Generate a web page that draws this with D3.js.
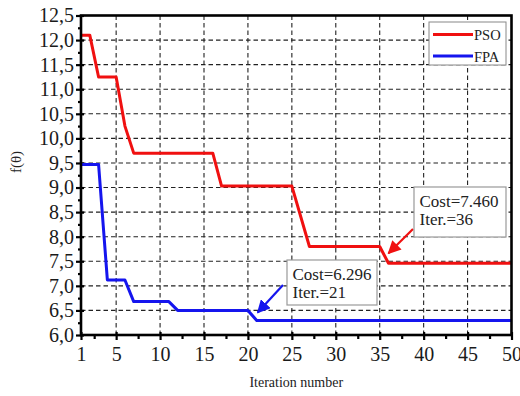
<!DOCTYPE html>
<html>
<head>
<meta charset="utf-8">
<script src="https://cdn.jsdelivr.net/npm/d3@7"></script>
<style>
  html, body { margin: 0; padding: 0; background: #fff; }
  svg { display: block; font-family: "Liberation Serif", "Times New Roman", serif; }
  svg text { font-family: "Liberation Serif", "Times New Roman", serif; }
</style>
</head>
<body>
<svg id="chart" width="520" height="396"></svg>
<script>
// Convergence curves: best cost per iteration (breakpoints of the step curves)
const psoIter  = [1, 2, 3, 5, 6, 7, 16, 17, 25, 27, 35, 36, 50];
const psoCost  = [12.1, 12.1, 11.25, 11.25, 10.25, 9.7, 9.7, 9.03, 9.03, 7.8, 7.8, 7.46, 7.46];
const fpaIter  = [1, 3, 4, 6, 7, 11, 12, 20, 21, 50];
const fpaCost  = [9.47, 9.47, 7.12, 7.12, 6.68, 6.68, 6.5, 6.5, 6.296, 6.296];

const xTicks = [1, 5, 10, 15, 20, 25, 30, 35, 40, 45, 50];
const xMinor = [2.5, 7.5, 12.5, 17.5, 22.5, 27.5, 32.5, 37.5, 42.5, 47.5];
const yTicks = [6.0, 6.5, 7.0, 7.5, 8.0, 8.5, 9.0, 9.5, 10.0, 10.5, 11.0, 11.5, 12.0, 12.5];
const yMinor = [6.25, 6.75, 7.25, 7.75, 8.25, 8.75, 9.25, 9.75, 10.25, 10.75, 11.25, 11.75, 12.25];

const seriesNames  = ["PSO", "FPA"];
const seriesColors = ["#f01010", "#1515ee"];

// Best-cost callouts
const callouts = [
  { series: 0, iter: 36, cost: 7.460, lines: ["Cost=7.460", "Iter.=36"] },
  { series: 1, iter: 21, cost: 6.296, lines: ["Cost=6.296", "Iter.=21"] }
];

const svg = d3.select("#chart");
const L = 81, R = 511.5, T = 15.5, B = 335;

const x = d3.scaleLinear().domain([1, 50]).range([L, R]);
const y = d3.scaleLinear().domain([6.0, 12.5]).range([B, T]);
const fmt = v => d3.format(".1f")(v).replace(".", ",");

// Grid
const grid = svg.append("g").attr("stroke", "#222").attr("stroke-width", 1.1)
  .attr("stroke-dasharray", "4.5,3");
grid.selectAll("line.v").data(xTicks.filter(d => d > 1 && d < 50)).join("line")
  .attr("x1", d => x(d)).attr("x2", d => x(d)).attr("y1", T).attr("y2", B);
grid.selectAll("line.h").data(yTicks.filter(d => d > 6 && d < 12.5)).join("line")
  .attr("x1", L).attr("x2", R).attr("y1", d => y(d)).attr("y2", d => y(d));

// Axes
const xAxis = svg.append("g").attr("transform", `translate(0,${B})`)
  .call(d3.axisBottom(x).tickValues(xTicks).tickFormat(d3.format("d")).tickSize(5).tickPadding(7));
const xAxisMinor = svg.append("g").attr("transform", `translate(0,${B})`)
  .call(d3.axisBottom(x).tickValues(xMinor).tickFormat("").tickSize(4));
const yAxis = svg.append("g").attr("transform", `translate(${L},0)`)
  .call(d3.axisLeft(y).tickValues(yTicks).tickFormat(fmt).tickSize(5).tickPadding(2));
const yAxisMinor = svg.append("g").attr("transform", `translate(${L},0)`)
  .call(d3.axisLeft(y).tickValues(yMinor).tickFormat("").tickSize(3));

[xAxis, xAxisMinor, yAxis, yAxisMinor].forEach(g => {
  g.attr("font-family", "Liberation Serif").attr("font-size", 20);
  g.select(".domain").remove();
  g.selectAll(".tick line").attr("stroke", "#000").attr("stroke-width", 2.2);
  g.selectAll(".tick text").attr("fill", "#1a1a1a");
});
// Major ticks cross slightly into the plot
xAxis.selectAll(".tick line").attr("y1", -3);
yAxis.selectAll(".tick line").attr("x1", 3);

// Curves
const line = d3.line().x(d => x(d[0])).y(d => y(d[1]));
const series = [d3.zip(psoIter, psoCost), d3.zip(fpaIter, fpaCost)];
series.forEach((s, i) => {
  svg.append("path").datum(s).attr("d", line)
    .attr("fill", "none").attr("stroke", seriesColors[i]).attr("stroke-width", 3)
    .attr("stroke-linejoin", "round");
});

// Frame
svg.append("rect").attr("x", L).attr("y", T).attr("width", R - L).attr("height", B - T)
  .attr("fill", "none").attr("stroke", "#000").attr("stroke-width", 2.6);

// Legend
const lg = svg.append("g");
lg.append("rect").attr("x", 429).attr("y", 22).attr("width", 77).attr("height", 43)
  .attr("fill", "#fff").attr("stroke", "#888").attr("stroke-width", 1);
seriesNames.forEach((n, i) => {
  const yy = 34.5 + i * 21.5;
  lg.append("line").attr("x1", 433).attr("x2", 473).attr("y1", yy).attr("y2", yy)
    .attr("stroke", seriesColors[i]).attr("stroke-width", 3);
  lg.append("text").attr("x", 474).attr("y", yy + 5.5).attr("font-size", 14.5)
    .attr("fill", "#222").text(n);
});

// Callouts with arrows
const defs = svg.append("defs");
seriesColors.forEach((c, i) => {
  defs.append("marker").attr("id", "arr" + i).attr("viewBox", "0 0 10 10")
    .attr("refX", 9).attr("refY", 5).attr("markerWidth", 6).attr("markerHeight", 6)
    .attr("orient", "auto").attr("markerUnits", "strokeWidth")
    .append("path").attr("d", "M0,0 L10,5 L0,10 z").attr("fill", c);
});
const boxes = [
  { x0: 414, y0: 187, w: 92, h: 50, from: [413, 229], off: [0, -10] },
  { x0: 287, y0: 260, w: 90, h: 45, from: [283, 285], off: [1, -8] }
];
callouts.forEach((c, i) => {
  const b = boxes[i];
  const tip = [x(c.iter) + b.off[0], y(c.cost) + b.off[1]];
  svg.append("line").attr("x1", b.from[0]).attr("y1", b.from[1])
    .attr("x2", tip[0]).attr("y2", tip[1])
    .attr("stroke", seriesColors[c.series]).attr("stroke-width", 2.2)
    .attr("marker-end", `url(#arr${c.series})`);
  svg.append("rect").attr("x", b.x0).attr("y", b.y0).attr("width", b.w).attr("height", b.h)
    .attr("fill", "#fff").attr("stroke", "#999").attr("stroke-width", 1.2);
  c.lines.forEach((t, k) => {
    svg.append("text").attr("x", b.x0 + 5.5).attr("y", b.y0 + 19.5 + k * 18)
      .attr("font-size", 17).attr("fill", "#222").text(t);
  });
});

// Axis titles
svg.append("text").attr("x", (L + R) / 2).attr("y", 387).attr("text-anchor", "middle")
  .attr("font-size", 14).attr("fill", "#222").text("Iteration number");
svg.append("text").attr("transform", "translate(21,162) rotate(-90)")
  .attr("text-anchor", "middle").attr("font-size", 15).attr("fill", "#222").text("f(θ)");
</script>
</body>
</html>
